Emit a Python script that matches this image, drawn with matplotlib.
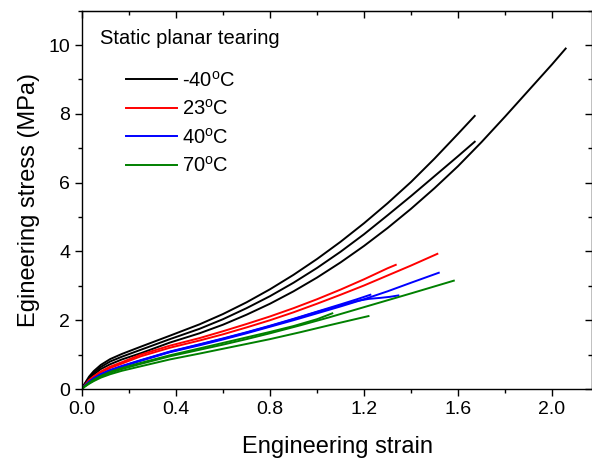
import matplotlib
matplotlib.use("Agg")
import matplotlib.pyplot as plt
from matplotlib.lines import Line2D
from matplotlib.ticker import MultipleLocator, FormatStrFormatter

plt.rcParams['font.family'] = ['Liberation Sans', 'DejaVu Sans']
plt.rcParams['mathtext.fontset'] = 'custom'
plt.rcParams['mathtext.rm'] = 'Liberation Sans'

# values (strain, stress in MPa)
knee = [0, 0.01, 0.03, 0.05, 0.08, 0.12, 0.17, 0.25, 0.374]

m40_a_strain = knee + [0.5, 0.6, 0.7, 0.8, 0.9, 1.0, 1.1, 1.2, 1.3, 1.4, 1.5, 1.6, 1.671]
m40_a_stress = [0, 0.14, 0.36, 0.52, 0.70, 0.87, 1.02, 1.23, 1.55,
                1.88, 2.18, 2.52, 2.90, 3.32, 3.78, 4.28, 4.82, 5.40, 6.02, 6.70, 7.42, 7.94]
m40_b_strain = knee + [0.5, 0.6, 0.7, 0.8, 0.9, 1.0, 1.1, 1.2, 1.3, 1.4, 1.5, 1.6, 1.671]
m40_b_stress = [0, 0.12, 0.32, 0.47, 0.64, 0.80, 0.94, 1.14, 1.45,
                1.75, 2.03, 2.35, 2.70, 3.09, 3.52, 3.99, 4.50, 5.05, 5.61, 6.19, 6.77, 7.19]
m40_c_strain = knee + [0.5, 0.6, 0.7, 0.8, 0.9, 1.0, 1.1, 1.2, 1.3, 1.4, 1.5, 1.6, 1.7, 1.8, 1.9, 2.0, 2.058]
m40_c_stress = [0, 0.11, 0.29, 0.42, 0.58, 0.72, 0.86, 1.04, 1.35,
                1.62, 1.87, 2.16, 2.48, 2.84, 3.24, 3.68, 4.16, 4.68, 5.24, 5.84, 6.48, 7.18, 7.92, 8.68, 9.44, 9.90]

t23_a_strain = knee + [0.5, 0.6, 0.7, 0.8, 0.9, 1.0, 1.1, 1.2, 1.3, 1.335]
t23_a_stress = [0, 0.10, 0.26, 0.37, 0.51, 0.65, 0.78, 1.00, 1.26,
                1.48, 1.68, 1.89, 2.11, 2.35, 2.61, 2.89, 3.19, 3.51, 3.61]
t23_b_strain = knee + [0.5, 0.6, 0.7, 0.8, 0.9, 1.0, 1.1, 1.2, 1.3, 1.4, 1.512]
t23_b_stress = [0, 0.09, 0.24, 0.35, 0.48, 0.61, 0.74, 0.95, 1.20,
                1.41, 1.59, 1.79, 2.00, 2.23, 2.48, 2.74, 3.01, 3.30, 3.59, 3.93]

t40_a_strain = knee + [0.5, 0.6, 0.7, 0.8, 0.9, 1.0, 1.1, 1.17, 1.227]
t40_a_stress = [0, 0.08, 0.21, 0.31, 0.43, 0.55, 0.67, 0.84, 1.09,
                1.30, 1.47, 1.65, 1.84, 2.04, 2.25, 2.46, 2.61, 2.74]
t40_b_strain = knee + [0.5, 0.6, 0.7, 0.8, 0.9, 1.0, 1.1, 1.17, 1.22, 1.27, 1.31, 1.346]
t40_b_stress = [0, 0.08, 0.21, 0.30, 0.42, 0.54, 0.66, 0.83, 1.08,
                1.29, 1.46, 1.64, 1.83, 2.03, 2.24, 2.43, 2.56, 2.62, 2.65, 2.68, 2.72]
t40_c_strain = knee + [0.5, 0.6, 0.7, 0.8, 0.9, 1.0, 1.1, 1.2, 1.3, 1.4, 1.518]
t40_c_stress = [0, 0.08, 0.20, 0.30, 0.42, 0.54, 0.65, 0.82, 1.07,
                1.27, 1.44, 1.62, 1.81, 2.00, 2.20, 2.40, 2.61, 2.84, 3.09, 3.38]

t70_a_strain = knee + [0.5, 0.6, 0.7, 0.8, 0.9, 1.0, 1.065]
t70_a_stress = [0, 0.07, 0.18, 0.27, 0.38, 0.50, 0.61, 0.76, 0.98,
                1.18, 1.34, 1.50, 1.66, 1.83, 2.03, 2.20]
t70_b_strain = knee + [0.5, 0.6, 0.7, 0.8, 0.928, 1.05, 1.2, 1.4, 1.582]
t70_b_stress = [0, 0.07, 0.17, 0.25, 0.36, 0.47, 0.58, 0.73, 0.95,
                1.14, 1.29, 1.45, 1.62, 1.85, 2.08, 2.38, 2.78, 3.15]
t70_c_strain = knee + [0.5, 0.6, 0.7, 0.8, 0.928, 1.05, 1.15, 1.219]
t70_c_stress = [0, 0.06, 0.15, 0.23, 0.33, 0.43, 0.53, 0.66, 0.86,
                1.03, 1.17, 1.31, 1.45, 1.65, 1.85, 2.01, 2.12]

curves = [
    (m40_a_strain, m40_a_stress, 'black'),
    (m40_b_strain, m40_b_stress, 'black'),
    (m40_c_strain, m40_c_stress, 'black'),
    (t23_a_strain, t23_a_stress, 'red'),
    (t23_b_strain, t23_b_stress, 'red'),
    (t40_a_strain, t40_a_stress, 'blue'),
    (t40_b_strain, t40_b_stress, 'blue'),
    (t40_c_strain, t40_c_stress, 'blue'),
    (t70_a_strain, t70_a_stress, 'green'),
    (t70_b_strain, t70_b_stress, 'green'),
    (t70_c_strain, t70_c_stress, 'green'),
]
legend_labels = [r'-40$^{\mathrm{o}}$C', r'23$^{\mathrm{o}}$C', r'40$^{\mathrm{o}}$C', r'70$^{\mathrm{o}}$C']
legend_colors = ['black', 'red', 'blue', 'green']

fig = plt.figure(figsize=(5.92, 4.63), dpi=100)
ax = fig.add_axes([82 / 592, 74 / 463, 510 / 592, 378.3 / 463])

for xs, ys, c in curves:
    ax.plot(xs, ys, color=c, lw=1.4, solid_joinstyle='round')

ax.set_xlim(0, 2.17)
ax.set_ylim(0, 11)
ax.xaxis.set_major_locator(MultipleLocator(0.4))
ax.xaxis.set_minor_locator(MultipleLocator(0.2))
ax.yaxis.set_major_locator(MultipleLocator(2))
ax.yaxis.set_minor_locator(MultipleLocator(1))
ax.xaxis.set_major_formatter(FormatStrFormatter('%.1f'))

ax.tick_params(which='both', direction='out', labelsize=14, width=1)
ax.tick_params(which='major', length=5)
ax.tick_params(which='minor', length=3)
for sp in ax.spines.values():
    sp.set_linewidth(1.0)

# top and right ticks point inwards
top = ax.secondary_xaxis('top')
top.xaxis.set_major_locator(MultipleLocator(0.4))
top.xaxis.set_minor_locator(MultipleLocator(0.2))
top.tick_params(which='both', direction='in', labeltop=False, width=1)
top.tick_params(which='major', length=5)
top.tick_params(which='minor', length=3)
right = ax.secondary_yaxis('right')
right.yaxis.set_major_locator(MultipleLocator(2))
right.yaxis.set_minor_locator(MultipleLocator(1))
right.tick_params(which='both', direction='in', labelright=False, width=1)
right.tick_params(which='major', length=5)
right.tick_params(which='minor', length=3)

ax.set_xlabel('Engineering strain', fontsize=17, labelpad=13)
ax.set_ylabel('Egineering stress (MPa)', fontsize=17, labelpad=6)

handles = [Line2D([], [], color=c, lw=1.4) for c in legend_colors]
ax.legend(handles, legend_labels, loc='upper left', bbox_to_anchor=(0.0863, 0.842),
          frameon=False, fontsize=14.5, handlelength=2.55, handletextpad=0.25,
          labelspacing=0.42, borderpad=0, borderaxespad=0)
ax.text(0.035, 0.926, 'Static planar tearing', transform=ax.transAxes,
        fontsize=14.5, va='center', ha='left')

fig.savefig('out.png', dpi=100)
